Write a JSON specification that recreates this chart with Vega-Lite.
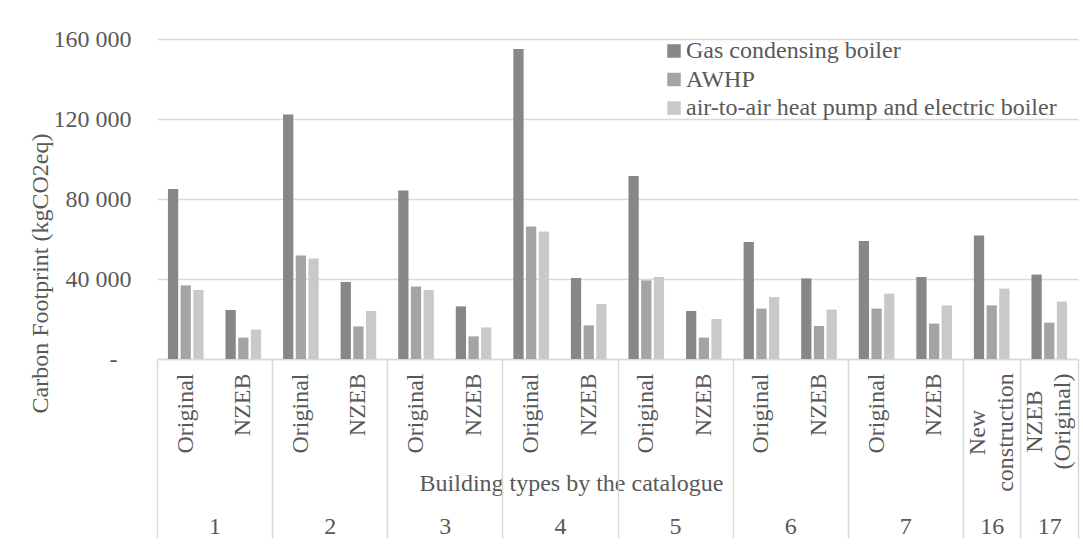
{
  "$schema": "https://vega.github.io/schema/vega-lite/v6.json",
  "width": 921,
  "height": 320,
  "autosize": {"type": "none"},
  "padding": {"left": 157, "top": 39, "right": 5, "bottom": 185},
  "background": "white",
  "datasets": {
    "rows": [
      {"cat": "1 Original", "system": "Gas condensing boiler", "value": 85000},
      {"cat": "1 Original", "system": "AWHP", "value": 36800},
      {"cat": "1 Original", "system": "air-to-air heat pump and electric boiler", "value": 34500},
      {"cat": "1 NZEB", "system": "Gas condensing boiler", "value": 24500},
      {"cat": "1 NZEB", "system": "AWHP", "value": 10700},
      {"cat": "1 NZEB", "system": "air-to-air heat pump and electric boiler", "value": 14700},
      {"cat": "2 Original", "system": "Gas condensing boiler", "value": 122200},
      {"cat": "2 Original", "system": "AWHP", "value": 51800},
      {"cat": "2 Original", "system": "air-to-air heat pump and electric boiler", "value": 50200},
      {"cat": "2 NZEB", "system": "Gas condensing boiler", "value": 38500},
      {"cat": "2 NZEB", "system": "AWHP", "value": 16300},
      {"cat": "2 NZEB", "system": "air-to-air heat pump and electric boiler", "value": 24000},
      {"cat": "3 Original", "system": "Gas condensing boiler", "value": 84300},
      {"cat": "3 Original", "system": "AWHP", "value": 36200},
      {"cat": "3 Original", "system": "air-to-air heat pump and electric boiler", "value": 34500},
      {"cat": "3 NZEB", "system": "Gas condensing boiler", "value": 26300},
      {"cat": "3 NZEB", "system": "AWHP", "value": 11300},
      {"cat": "3 NZEB", "system": "air-to-air heat pump and electric boiler", "value": 15800},
      {"cat": "4 Original", "system": "Gas condensing boiler", "value": 155000},
      {"cat": "4 Original", "system": "AWHP", "value": 66300},
      {"cat": "4 Original", "system": "air-to-air heat pump and electric boiler", "value": 63700},
      {"cat": "4 NZEB", "system": "Gas condensing boiler", "value": 40500},
      {"cat": "4 NZEB", "system": "AWHP", "value": 16800},
      {"cat": "4 NZEB", "system": "air-to-air heat pump and electric boiler", "value": 27500},
      {"cat": "5 Original", "system": "Gas condensing boiler", "value": 91500},
      {"cat": "5 Original", "system": "AWHP", "value": 39300},
      {"cat": "5 Original", "system": "air-to-air heat pump and electric boiler", "value": 41000},
      {"cat": "5 NZEB", "system": "Gas condensing boiler", "value": 24000},
      {"cat": "5 NZEB", "system": "AWHP", "value": 10700},
      {"cat": "5 NZEB", "system": "air-to-air heat pump and electric boiler", "value": 20000},
      {"cat": "6 Original", "system": "Gas condensing boiler", "value": 58500},
      {"cat": "6 Original", "system": "AWHP", "value": 25200},
      {"cat": "6 Original", "system": "air-to-air heat pump and electric boiler", "value": 31000},
      {"cat": "6 NZEB", "system": "Gas condensing boiler", "value": 40300},
      {"cat": "6 NZEB", "system": "AWHP", "value": 16500},
      {"cat": "6 NZEB", "system": "air-to-air heat pump and electric boiler", "value": 24700},
      {"cat": "7 Original", "system": "Gas condensing boiler", "value": 59000},
      {"cat": "7 Original", "system": "AWHP", "value": 25200},
      {"cat": "7 Original", "system": "air-to-air heat pump and electric boiler", "value": 32700},
      {"cat": "7 NZEB", "system": "Gas condensing boiler", "value": 41000},
      {"cat": "7 NZEB", "system": "AWHP", "value": 17700},
      {"cat": "7 NZEB", "system": "air-to-air heat pump and electric boiler", "value": 26800},
      {"cat": "16 New construction", "system": "Gas condensing boiler", "value": 61800},
      {"cat": "16 New construction", "system": "AWHP", "value": 26800},
      {"cat": "16 New construction", "system": "air-to-air heat pump and electric boiler", "value": 35200},
      {"cat": "17 NZEB (Original)", "system": "Gas condensing boiler", "value": 42200},
      {"cat": "17 NZEB (Original)", "system": "AWHP", "value": 18200},
      {"cat": "17 NZEB (Original)", "system": "air-to-air heat pump and electric boiler", "value": 28700}
    ]
  },
  "data": {"name": "rows"},
  "layer": [
    {
      "mark": {"type": "bar"},
      "encoding": {
        "x": {
          "field": "cat",
          "type": "nominal",
          "sort": ["1 Original", "1 NZEB", "2 Original", "2 NZEB", "3 Original", "3 NZEB", "4 Original", "4 NZEB", "5 Original", "5 NZEB", "6 Original", "6 NZEB", "7 Original", "7 NZEB", "16 New construction", "17 NZEB (Original)"],
          "scale": {"paddingInner": 0.3815, "paddingOuter": 0.19},
          "axis": {
            "orient": "bottom",
            "title": "Building types by the catalogue",
            "titleFont": "Liberation Serif",
            "titleX": 414,
            "titleY": 124,
            "titleAlign": "center",
            "titleBaseline": "middle",
            "titleAngle": 0,
            "domain": true,
            "domainColor": "#d9d9d9",
            "domainWidth": 1.5,
            "ticks": false,
            "grid": false,
            "labelFont": "Liberation Serif",
            "labelExpr": "datum.value == '16 New construction' ? ['New', 'construction'] : datum.value == '17 NZEB (Original)' ? ['NZEB', '(Original)'] : split(datum.value, ' ')[1]",
            "labelAngle": 270,
            "labelAlign": {"condition": {"test": "datum.value == '16 New construction' || datum.value == '17 NZEB (Original)'", "value": "center"}, "value": "right"},
            "labelBaseline": "middle",
            "labelPadding": {"condition": [{"test": "datum.value == '16 New construction'", "value": 73}, {"test": "datum.value == '17 NZEB (Original)'", "value": 62}], "value": 14},
            "labelOffset": {"condition": {"test": "datum.value == '16 New construction' || datum.value == '17 NZEB (Original)'", "value": -14}, "value": 0},
            "labelLineHeight": 28,
            "labelOverlap": false,
            "labelBound": false
          }
        },
        "xOffset": {
          "field": "system",
          "type": "nominal",
          "sort": ["Gas condensing boiler", "AWHP", "air-to-air heat pump and electric boiler"],
          "scale": {"paddingInner": 0.19, "paddingOuter": 0}
        },
        "y": {
          "field": "value",
          "type": "quantitative",
          "scale": {"domain": [0, 160000], "nice": false},
          "axis": {
            "title": "Carbon Footprint (kgCO2eq)",
            "titleFont": "Liberation Serif",
            "titleX": -117,
            "titleY": 234,
            "titleAngle": 270,
            "titleAlign": "center",
            "titleBaseline": "middle",
            "values": [0, 40000, 80000, 120000, 160000],
            "labelFont": "Liberation Serif",
            "labelExpr": "datum.value == 0 ? '-' : replace(format(datum.value, ','), ',', ' ')",
            "labelPadding": {"condition": {"test": "datum.value == 0", "value": 40}, "value": 26},
            "labelBaseline": "middle",
            "domain": false,
            "ticks": false,
            "grid": true,
            "gridColor": "#d9d9d9",
            "gridWidth": 1.5
          }
        },
        "color": {
          "field": "system",
          "type": "nominal",
          "scale": {
            "domain": ["Gas condensing boiler", "AWHP", "air-to-air heat pump and electric boiler"],
            "range": ["#878787", "#a4a4a4", "#c9c9c9"]
          },
          "legend": {
            "title": null,
            "orient": "none",
            "legendX": 505,
            "legendY": 0,
            "padding": 0,
            "symbolType": "square",
            "symbolSize": 182,
            "symbolStrokeWidth": 0,
            "labelFontSize": 24,
            "labelFont": "Liberation Serif",
            "labelColor": "#595959",
            "labelOffset": 0,
            "rowPadding": 4.5,
            "labelLimit": 600
          }
        }
      }
    },
    {
      "mark": {"type": "point", "opacity": 0},
      "encoding": {
        "x": {
          "field": "cat",
          "type": "nominal",
          "sort": ["1 Original", "1 NZEB", "2 Original", "2 NZEB", "3 Original", "3 NZEB", "4 Original", "4 NZEB", "5 Original", "5 NZEB", "6 Original", "6 NZEB", "7 Original", "7 NZEB", "16 New construction", "17 NZEB (Original)"],
          "scale": {"paddingInner": 0, "paddingOuter": 0},
          "axis": {
            "orient": "bottom",
            "title": null,
            "domain": false,
            "grid": false,
            "ticks": true,
            "tickBand": "extent",
            "tickSize": 179,
            "tickColor": "#d9d9d9",
            "tickWidth": 1.5,
            "tickOpacity": {"condition": {"test": "isValid(datum.value) && test(regexp('^[0-9] Original$'), datum.value)", "value": 0}, "value": 1},
            "labelFont": "Liberation Serif",
            "labelExpr": "!isValid(datum.value) ? '' : test(regexp('^[0-9] NZEB$'), datum.value) ? '' : split(datum.value, ' ')[0]",
            "labelAngle": 0,
            "labelAlign": "center",
            "labelBaseline": "middle",
            "labelPadding": -12,
            "labelOffset": {"condition": {"test": "isValid(datum.value) && test(regexp('^[0-9] Original$'), datum.value)", "value": 28.78}, "value": 0},
            "labelOverlap": false,
            "labelBound": false
          }
        },
        "y": {"field": "value", "type": "quantitative"}
      }
    }
  ],
  "resolve": {"scale": {"x": "independent"}, "axis": {"x": "independent"}},
  "config": {
    "view": {"stroke": null},
    "font": "Liberation Serif",
    "axis": {
      "labelFont": "Liberation Serif",
      "labelColor": "#595959",
      "labelFontSize": 24,
      "titleFont": "Liberation Serif",
      "titleColor": "#595959",
      "titleFontSize": 24,
      "titleFontWeight": "normal"
    },
    "legend": {
      "labelFont": "Liberation Serif",
      "labelColor": "#595959",
      "labelFontSize": 24
    },
    "text": {"font": "Liberation Serif"}
  }
}
